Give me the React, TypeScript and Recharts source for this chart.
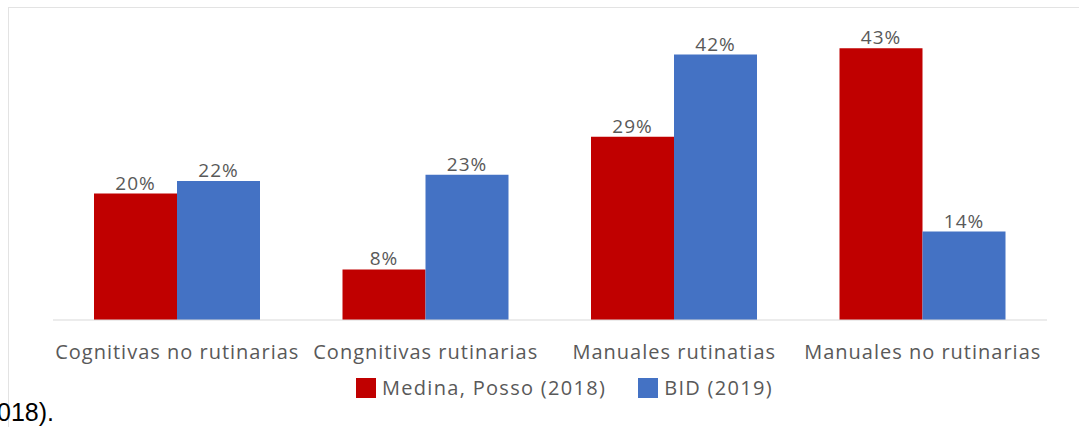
import { Bar, BarChart, LabelList, XAxis, YAxis } from "recharts";

const categories = [
  "Cognitivas no rutinarias",
  "Congnitivas rutinarias",
  "Manuales rutinatias",
  "Manuales no rutinarias",
];
const medinaPosso = [20, 8, 29, 43];
const bid = [22, 23, 42, 14];
const seriesNames = ["Medina, Posso (2018)", "BID (2019)"];

const data = categories.map((name, i) => ({
  name,
  medina: medinaPosso[i],
  bid: bid[i],
}));

const RED = "#C00000";
const BLUE = "#4472C4";
const TEXT = "#595959";
const FONT = "'Open Sans', sans-serif";

const pct = (v: number) => `${v}%`;

function ChartLegend() {
  const items = [
    { label: seriesNames[0], color: RED },
    { label: seriesNames[1], color: BLUE },
  ];
  return (
    <div
      style={{
        position: "absolute",
        left: 356,
        top: 376,
        display: "flex",
        gap: 32,
        fontFamily: FONT,
        fontSize: 20,
        letterSpacing: 1.3,
        color: TEXT,
        lineHeight: "24px",
      }}
    >
      {items.map((it) => (
        <div key={it.label} style={{ display: "flex", alignItems: "center", gap: 6 }}>
          <span style={{ width: 20, height: 20, background: it.color, display: "inline-block" }} />
          <span>{it.label}</span>
        </div>
      ))}
    </div>
  );
}

export default function App() {
  return (
    <div style={{ position: "absolute", left: 0, top: 0, width: 1079, height: 427, overflow: "hidden", background: "#fff" }}>
      <div style={{ position: "absolute", left: 8, top: 7, width: 1100, height: 440, border: "1px solid #e3e3e3" }} />
      <BarChart
        width={1079}
        height={427}
        data={data}
        margin={{ top: 4, right: 32, left: 53, bottom: 0 }}
        barGap={0}
        barCategoryGap={41}
        style={{ position: "absolute", left: 0, top: 0 }}
      >
        <XAxis
          dataKey="name"
          axisLine={{ stroke: "#d9d9d9" }}
          tickLine={false}
          height={107}
          interval={0}
          tick={{ fill: TEXT, fontSize: 20, fontFamily: FONT, letterSpacing: 1, dy: 17 }}
        />
        <YAxis hide domain={[0, 50]} />
        <Bar dataKey="medina" name={seriesNames[0]} fill={RED} isAnimationActive={false}>
          <LabelList dataKey="medina" position="top" formatter={pct} fill={TEXT} fontSize={19} fontFamily={FONT} letterSpacing={1} offset={4} />
        </Bar>
        <Bar dataKey="bid" name={seriesNames[1]} fill={BLUE} isAnimationActive={false}>
          <LabelList dataKey="bid" position="top" formatter={pct} fill={TEXT} fontSize={19} fontFamily={FONT} letterSpacing={1} offset={4} />
        </Bar>
      </BarChart>
      <ChartLegend />
      <div style={{ position: "absolute", left: -3, top: 398, fontFamily: "'Liberation Sans', sans-serif", fontSize: 25, color: "#000" }}>
        018).
      </div>
    </div>
  );
}
